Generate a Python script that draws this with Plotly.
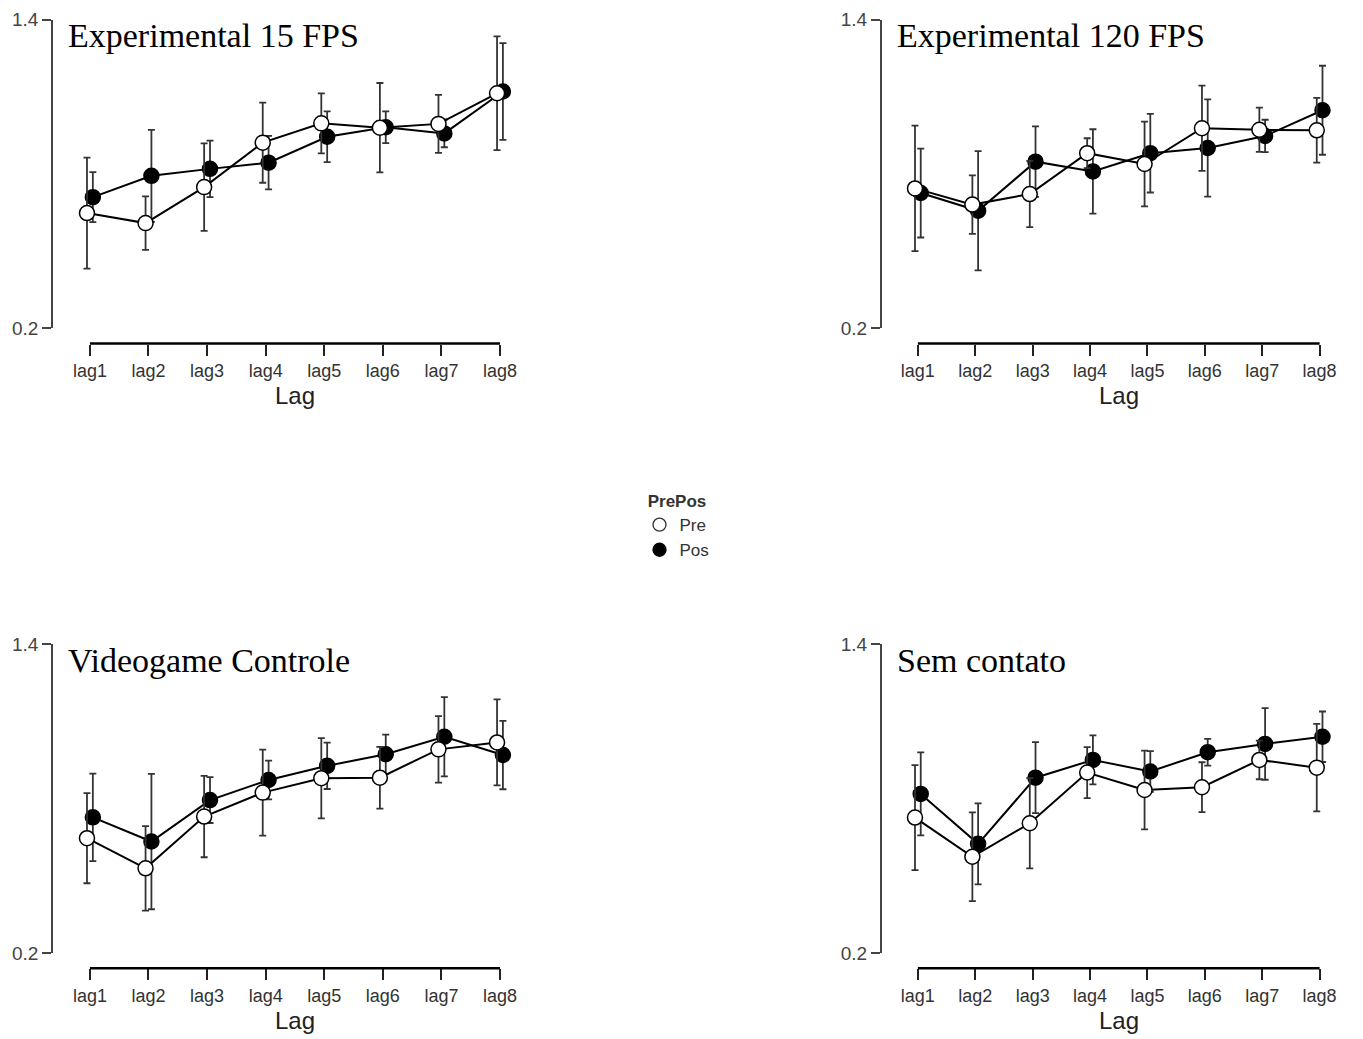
import plotly.graph_objects as go

lags = ["lag1", "lag2", "lag3", "lag4", "lag5", "lag6", "lag7", "lag8"]
panel_titles = ["Experimental 15 FPS", "Experimental 120 FPS", "Videogame Controle", "Sem contato"]
y_ticks = [0.2, 1.4]

exp15_pre = [0.647, 0.608, 0.748, 0.921, 0.996, 0.979, 0.994, 1.113]
exp15_pre_se = [0.216, 0.104, 0.170, 0.156, 0.117, 0.174, 0.113, 0.221]
exp15_pos = [0.709, 0.792, 0.819, 0.843, 0.944, 0.981, 0.957, 1.120]
exp15_pos_se = [0.097, 0.179, 0.110, 0.104, 0.099, 0.062, 0.054, 0.188]

exp120_pre = [0.743, 0.680, 0.721, 0.880, 0.838, 0.977, 0.971, 0.969]
exp120_pre_se = [0.244, 0.114, 0.129, 0.058, 0.165, 0.166, 0.086, 0.126]
exp120_pos = [0.725, 0.656, 0.847, 0.809, 0.880, 0.900, 0.947, 1.047]
exp120_pos_se = [0.173, 0.232, 0.137, 0.164, 0.153, 0.189, 0.063, 0.173]

vg_pre = [0.647, 0.530, 0.731, 0.824, 0.880, 0.882, 0.992, 1.019]
vg_pre_se = [0.175, 0.164, 0.158, 0.167, 0.156, 0.120, 0.129, 0.167]
vg_pos = [0.728, 0.634, 0.795, 0.873, 0.928, 0.973, 1.041, 0.970]
vg_pos_se = [0.170, 0.263, 0.089, 0.075, 0.090, 0.076, 0.154, 0.133]

sc_pre = [0.727, 0.575, 0.705, 0.902, 0.834, 0.845, 0.951, 0.921]
sc_pre_se = [0.204, 0.172, 0.175, 0.099, 0.153, 0.097, 0.075, 0.170]
sc_pos = [0.819, 0.625, 0.882, 0.951, 0.906, 0.981, 1.013, 1.041]
sc_pos_se = [0.161, 0.157, 0.138, 0.095, 0.079, 0.052, 0.139, 0.098]

panels = [
    (exp15_pre, exp15_pre_se, exp15_pos, exp15_pos_se),
    (exp120_pre, exp120_pre_se, exp120_pos, exp120_pos_se),
    (vg_pre, vg_pre_se, vg_pos, vg_pos_se),
    (sc_pre, sc_pre_se, sc_pos, sc_pos_se),
]

# page body has an 8px margin; figure fills the rest of the window
OFF = 8
W, H = 1363 - OFF, 1039 - OFF
SANS = "Liberation Sans, Arial, sans-serif"
SERIF = "Liberation Serif, Times New Roman, serif"


def px(xp):
    return (xp - OFF) / W


def py(yp):
    return 1 - (yp - OFF) / H


# window-pixel layout of each panel: (x of y-axis line, x right edge, y of 1.4, y of 0.2, y of x-line)
geo = [
    (53, 511.7, 19.5, 328.0, 343.5),
    (881.7, 1331.1, 19.5, 328.0, 343.5),
    (53, 511.7, 644.3, 953.3, 968.3),
    (881.7, 1331.1, 644.3, 953.3, 968.3),
]

fig = go.Figure()
pos_idx = list(range(1, len(lags) + 1))
dodge = 0.05
mid = (pos_idx[0] + pos_idx[-1]) / 2

for i, ((pre, pre_se, pos, pos_se), g) in enumerate(zip(panels, geo)):
    n = i + 1
    xa = "x" if n == 1 else f"x{n}"
    ya = "y" if n == 1 else f"y{n}"
    fig.add_trace(go.Scatter(
        x=[p + dodge for p in pos_idx], y=pos, xaxis=xa, yaxis=ya,
        mode="lines+markers", showlegend=False, cliponaxis=False,
        line=dict(color="black", width=2),
        marker=dict(size=15, color="black", line=dict(color="black", width=1.5)),
        error_y=dict(type="data", array=pos_se, thickness=1.8, width=3.5, color="#333333"),
    ))
    fig.add_trace(go.Scatter(
        x=[p - dodge for p in pos_idx], y=pre, xaxis=xa, yaxis=ya,
        mode="lines+markers", showlegend=False, cliponaxis=False,
        line=dict(color="black", width=2),
        marker=dict(size=15, color="white", line=dict(color="black", width=1.5)),
        error_y=dict(type="data", array=pre_se, thickness=1.8, width=3.5, color="#333333"),
    ))

    xl, xr, ytop, ybot, yline = g
    xkey = "xaxis" if n == 1 else f"xaxis{n}"
    ykey = "yaxis" if n == 1 else f"yaxis{n}"
    fig.update_layout(**{
        xkey: dict(
            domain=[px(xl), px(xr)], range=[0.37, 8.2],
            tickvals=pos_idx, ticktext=lags,
            ticks="outside", ticklen=11, tickwidth=2, tickcolor="#222222",
            showline=False, showgrid=False, zeroline=False, automargin=False,
            anchor="free", position=py(yline),
            tickfont=dict(family=SANS, size=18, color="#333333"),
        ),
        ykey: dict(
            domain=[py(ybot), py(ytop)], range=[0.2, 1.4],
            tickvals=y_ticks, ticktext=["0.2", "1.4"],
            ticks="outside", ticklen=9, tickwidth=1.5, tickcolor="#444444",
            showline=True, linecolor="#444444", linewidth=1.6,
            showgrid=False, zeroline=False, anchor=xa, automargin=False,
            tickfont=dict(family=SANS, size=19, color="#444444"),
        ),
    })
    fig.add_shape(type="line", xref=xa, x0=pos_idx[0], x1=pos_idx[-1], yref="paper",
                  y0=py(yline), y1=py(yline),
                  line=dict(color="black", width=2.5))
    fig.add_annotation(text="Lag", xref=xa, yref="paper",
                       x=mid, y=py(yline + 52),
                       xanchor="center", yanchor="middle", showarrow=False,
                       font=dict(family=SANS, size=24, color="#222222"))
    fig.add_annotation(text=panel_titles[i], xref="paper", yref="paper",
                       x=px(xl + 13), y=py(ytop + 16),
                       xanchor="left", yanchor="middle", showarrow=False,
                       font=dict(family=SERIF, size=34, color="black"))

# legend entries
fig.add_trace(go.Scatter(x=[None], y=[None], mode="markers", name="Pre",
                         marker=dict(size=13, color="white", line=dict(color="#333333", width=1.3))))
fig.add_trace(go.Scatter(x=[None], y=[None], mode="markers", name="Pos",
                         marker=dict(size=13, color="black", line=dict(color="black", width=1.3))))

fig.update_layout(
    width=W, height=H,
    margin=dict(l=0, r=0, t=0, b=0, autoexpand=False),
    paper_bgcolor="white", plot_bgcolor="white",
    showlegend=True,
    legend=dict(
        x=px(677), y=py(485), xanchor="center", yanchor="top",
        title=dict(text="<b>PrePos</b>", side="top center",
                   font=dict(family=SANS, size=17, color="#333333")),
        font=dict(family=SANS, size=17, color="#333333"),
        bgcolor="rgba(0,0,0,0)", itemwidth=30, tracegroupgap=0,
    ),
)

fig.write_html("out.html")
